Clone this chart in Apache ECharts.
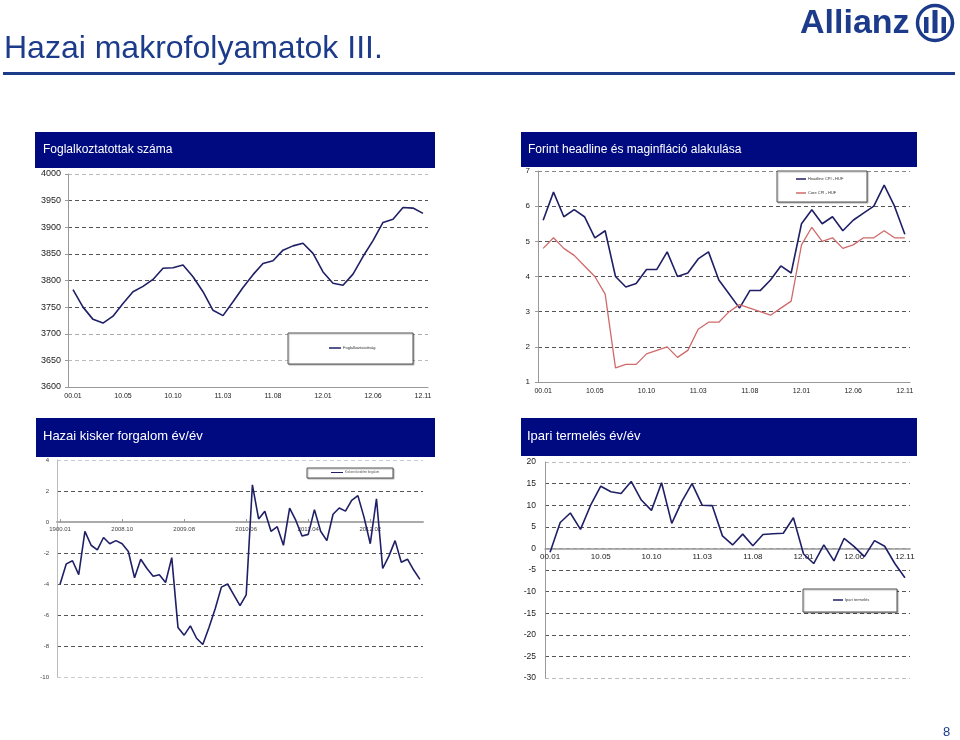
<!DOCTYPE html>
<html>
<head>
<meta charset="utf-8">
<title>Hazai makrofolyamatok III.</title>
<script src="https://cdn.jsdelivr.net/npm/echarts@6/dist/echarts.min.js"></script>
<style>
  html, body { margin: 0; padding: 0; background: #fff; }
  #main { width: 960px; height: 740px; }
</style>
</head>
<body>
<div id="main"></div>
<script>
// havi címkék (az első pont Excel-hibás "00.01" címkét visel)
var honapok = ['00.01',
  '10.01','10.02','10.03','10.04','10.05','10.06','10.07','10.08','10.09','10.10','10.11','10.12',
  '11.01','11.02','11.03','11.04','11.05','11.06','11.07','11.08','11.09','11.10','11.11','11.12',
  '12.01','12.02','12.03','12.04','12.05','12.06','12.07','12.08','12.09','12.10','12.11'];

var kiskerHonapok = ['1900.01',
  '2008.01','2008.02','2008.03','2008.04','2008.05','2008.06','2008.07','2008.08','2008.09','2008.10','2008.11','2008.12',
  '2009.01','2009.02','2009.03','2009.04','2009.05','2009.06','2009.07','2009.08','2009.09','2009.10','2009.11','2009.12',
  '2010.01','2010.02','2010.03','2010.04','2010.05','2010.06','2010.07','2010.08','2010.09','2010.10','2010.11','2010.12',
  '2011.01','2011.02','2011.03','2011.04','2011.05','2011.06','2011.07','2011.08','2011.09','2011.10','2011.11','2011.12',
  '2012.01','2012.02','2012.03','2012.04','2012.05','2012.06','2012.07','2012.08','2012.09','2012.10'];

// ezer fő
var foglalkoztatottsag = [3783,3750,3727,3720,3733,3757,3779,3789,3802,3823,3824,3829,
  3807,3779,3744,3734,3760,3787,3811,3832,3837,3857,3865,3870,
  3851,3816,3795,3791,3812,3845,3875,3909,3915,3937,3936,3926];

var headlineCpi = [5.6,6.4,5.7,5.9,5.7,5.1,5.3,4.0,3.7,3.8,4.2,4.2,
  4.7,4.0,4.1,4.5,4.7,3.9,3.5,3.1,3.6,3.6,3.9,4.3,
  4.1,5.5,5.9,5.5,5.7,5.3,5.6,5.8,6.0,6.6,6.0,5.2];

var coreCpi = [4.8,5.1,4.8,4.6,4.3,4.0,3.5,1.4,1.5,1.5,1.8,1.9,
  2.0,1.7,1.9,2.5,2.7,2.7,3.0,3.2,3.1,3.0,2.9,3.1,
  3.3,4.9,5.4,5.0,5.1,4.8,4.9,5.1,5.1,5.3,5.1,5.1];

var kiskerForgalom = [-4.0,-2.7,-2.5,-3.4,-0.6,-1.5,-1.8,-1.0,-1.4,-1.2,
  -1.4,-1.9,-3.6,-2.4,-3.0,-3.5,-3.4,-3.9,-2.3,-6.8,
  -7.3,-6.7,-7.5,-7.9,-6.8,-5.6,-4.2,-4.0,-4.7,-5.4,
  -4.7,2.4,0.2,0.7,-0.6,-0.3,-1.5,0.9,0.1,-0.9,
  -0.8,0.8,-0.6,-1.2,0.5,0.9,0.7,1.4,1.7,0.3,
  -1.4,1.5,-3.0,-2.2,-1.2,-2.6,-2.4,-3.1,-3.7];

var ipariTermeles = [-0.9,6.0,8.2,4.4,10.0,14.4,13.1,12.7,15.5,11.2,8.8,15.2,
  5.8,10.9,15.0,10.0,9.9,2.9,0.8,3.3,0.6,3.2,3.4,3.5,
  7.1,-1.3,-3.5,0.8,-2.9,2.3,0.4,-1.9,1.8,0.5,-3.5,-6.8];

var kek = '#1c3b8a';
var fejlec = '#000a80';
var vonal = '#1f1f66';
var betu = 'Arial, "Liberation Sans", sans-serif';

var chart = echarts.init(document.getElementById('main'));

function fejlecDoboz(x, y, w, h) {
  return { type: 'rect', z: 0, shape: { x: x, y: y, width: w, height: h }, style: { fill: fejlec } };
}
function legendDoboz(x, y, w, h) {
  return { type: 'rect', z: 3, shape: { x: x, y: y, width: w, height: h },
    style: { fill: '#fff', stroke: '#555', lineWidth: 1, shadowColor: 'rgba(0,0,0,0.25)', shadowOffsetX: 1, shadowOffsetY: 1, shadowBlur: 1 } };
}
function szaggatott(szinek) {
  return { show: true, lineStyle: { type: [4, 3], width: 1, color: szinek } };
}

var option = {
  backgroundColor: '#fff',
  textStyle: { fontFamily: betu },
  animation: false,
  title: [
    { text: 'Hazai makrofolyamatok III.', left: 4, top: 33, padding: 0,
      textStyle: { color: kek, fontSize: 32, fontWeight: 'normal', fontFamily: betu } },
    { text: 'Foglalkoztatottak száma', left: 43, top: 144, padding: 0,
      textStyle: { color: '#fff', fontSize: 12, fontWeight: 'normal', fontFamily: betu } },
    { text: 'Forint headline és maginfláció alakulása', left: 528, top: 144, padding: 0,
      textStyle: { color: '#fff', fontSize: 12, fontWeight: 'normal', fontFamily: betu } },
    { text: 'Hazai kisker forgalom év/év', left: 43, top: 430, padding: 0,
      textStyle: { color: '#fff', fontSize: 13, fontWeight: 'normal', fontFamily: betu } },
    { text: 'Ipari termelés év/év', left: 527, top: 430, padding: 0,
      textStyle: { color: '#fff', fontSize: 13, fontWeight: 'normal', fontFamily: betu } }
  ],
  graphic: [
    { type: 'rect', shape: { x: 3, y: 72, width: 952, height: 3 }, style: { fill: kek } },
    { type: 'text', left: 800, top: 7, style: { text: 'Allianz', fill: kek, font: 'bold 34px ' + betu } },
    { type: 'circle', shape: { cx: 935, cy: 23, r: 17.5 }, style: { fill: 'none', stroke: kek, lineWidth: 3.5 } },
    { type: 'rect', shape: { x: 924, y: 17, width: 4.5, height: 16 }, style: { fill: kek } },
    { type: 'rect', shape: { x: 932.5, y: 10, width: 5, height: 23 }, style: { fill: kek } },
    { type: 'rect', shape: { x: 941.5, y: 17, width: 4.5, height: 16 }, style: { fill: kek } },
    { type: 'text', left: 943, top: 726, style: { text: '8', fill: kek, font: '13px ' + betu } },
    fejlecDoboz(35, 132, 400, 36),
    fejlecDoboz(521, 132, 396, 35),
    fejlecDoboz(36, 418, 399, 39),
    fejlecDoboz(521, 418, 396, 38),
    legendDoboz(288, 333, 125, 31),
    legendDoboz(777, 171, 90, 31),
    legendDoboz(307, 468, 86, 10),
    legendDoboz(803, 589, 94, 23)
  ],
  legend: [
    { data: ['Foglalkoztatottság'], left: 329, top: 346, padding: 0, icon: 'rect', itemWidth: 12, itemHeight: 1.5, itemGap: 2,
      textStyle: { fontSize: 4, color: '#333', padding: [0, 0, 0, -3] } },
    { data: ['Headline CPI - HUF', 'Core CPI - HUF'], orient: 'vertical', left: 796, top: 177, padding: 0, icon: 'rect',
      itemWidth: 10, itemHeight: 1.5, itemGap: 10, textStyle: { fontSize: 4, color: '#333', padding: [0, 0, 0, -3] } },
    { data: ['Kiskereskedelmi forgalom'], left: 331, top: 471, padding: 0, icon: 'rect', itemWidth: 12, itemHeight: 1, itemGap: 2,
      textStyle: { fontSize: 3, color: '#555', padding: [0, 0, 0, -3] } },
    { data: ['Ipari termelés'], left: 833, top: 598, padding: 0, icon: 'rect', itemWidth: 10, itemHeight: 1.5, itemGap: 2,
      textStyle: { fontSize: 4, color: '#333', padding: [0, 0, 0, -3] } }
  ],
  grid: [
    { left: 68, right: 532, top: 174, bottom: 353 },
    { left: 538, right: 50, top: 171, bottom: 358 },
    { left: 57, right: 537, top: 460, bottom: 63 },
    { left: 545, right: 50, top: 462, bottom: 62 }
  ],
  xAxis: [
    { gridIndex: 0, type: 'category', data: honapok, boundaryGap: true,
      axisLine: { lineStyle: { color: '#999' } }, axisTick: { show: false },
      axisLabel: { interval: 4, fontSize: 7, color: '#222', margin: 6 } },
    { gridIndex: 1, type: 'category', data: honapok, boundaryGap: true,
      axisLine: { lineStyle: { color: '#999' } }, axisTick: { show: false },
      axisLabel: { interval: 4, fontSize: 7, color: '#222', margin: 6 } },
    // a tengely a 0-s szintre kerül (offset a rács aljától)
    { gridIndex: 2, type: 'category', data: kiskerHonapok, boundaryGap: true, position: 'bottom', offset: -155,
      axisLine: { onZero: false, lineStyle: { color: '#aaa', width: 2 } },
      axisTick: { show: true, interval: 9, alignWithLabel: true, inside: true, length: 3, lineStyle: { color: '#999' } },
      axisLabel: { interval: 9, fontSize: 6, color: '#444', margin: 4 } },
    { gridIndex: 3, type: 'category', data: honapok, boundaryGap: true, position: 'bottom', offset: -129.6,
      axisLine: { onZero: false, lineStyle: { color: '#999', width: 1.5 } }, axisTick: { show: false },
      axisLabel: { interval: 4, fontSize: 8, color: '#222', margin: 4 } }
  ],
  yAxis: [
    { gridIndex: 0, type: 'value', min: 3600, max: 4000, interval: 50,
      axisLine: { show: true, lineStyle: { color: '#999' } }, axisTick: { show: true, length: 3 },
      axisLabel: { fontSize: 9, color: '#222', margin: 7, formatter: function (v) { return String(v); } },
      splitLine: szaggatott(['#999', '#bbb', '#aaa', '#555', '#555', '#555', '#555', '#555', '#bbb']) },
    { gridIndex: 1, type: 'value', min: 1, max: 7, interval: 1,
      axisLine: { show: true, lineStyle: { color: '#999' } }, axisTick: { show: true, length: 3 },
      axisLabel: { fontSize: 8, color: '#222', margin: 8 },
      splitLine: szaggatott(['#999', '#555', '#555', '#555', '#555', '#555', '#888']) },
    { gridIndex: 2, type: 'value', min: -10, max: 4, interval: 2,
      axisLine: { show: true, lineStyle: { color: '#bbb' } }, axisTick: { show: false },
      axisLabel: { fontSize: 6, color: '#444', margin: 8 },
      splitLine: szaggatott(['#ccc', '#555', '#555', '#555', '#555', '#aaa', '#555', '#ccc']) },
    { gridIndex: 3, type: 'value', min: -30, max: 20, interval: 5,
      axisLine: { show: true, lineStyle: { color: '#999' } }, axisTick: { show: false },
      axisLabel: { fontSize: 8.5, color: '#222', margin: 9 },
      splitLine: szaggatott(['#bbb', '#555', '#555', '#555', '#555', '#555', '#999', '#555', '#555', '#555', '#bbb']) }
  ],
  series: [
    { name: 'Foglalkoztatottság', type: 'line', xAxisIndex: 0, yAxisIndex: 0, data: foglalkoztatottsag,
      showSymbol: false, itemStyle: { color: vonal }, lineStyle: { color: vonal, width: 1.6 } },
    { name: 'Headline CPI - HUF', type: 'line', xAxisIndex: 1, yAxisIndex: 1, data: headlineCpi,
      showSymbol: false, itemStyle: { color: vonal }, lineStyle: { color: vonal, width: 1.6 } },
    { name: 'Core CPI - HUF', type: 'line', xAxisIndex: 1, yAxisIndex: 1, data: coreCpi,
      showSymbol: false, itemStyle: { color: '#d06a6a' }, lineStyle: { color: '#d06a6a', width: 1.3 } },
    { name: 'Kiskereskedelmi forgalom', type: 'line', xAxisIndex: 2, yAxisIndex: 2, data: kiskerForgalom,
      showSymbol: false, itemStyle: { color: vonal }, lineStyle: { color: vonal, width: 1.6 } },
    { name: 'Ipari termelés', type: 'line', xAxisIndex: 3, yAxisIndex: 3, data: ipariTermeles,
      showSymbol: false, itemStyle: { color: vonal }, lineStyle: { color: vonal, width: 1.6 } }
  ]
};

chart.setOption(option);
window.addEventListener('resize', function () {
  chart.resize();
});
</script>
</body>
</html>
